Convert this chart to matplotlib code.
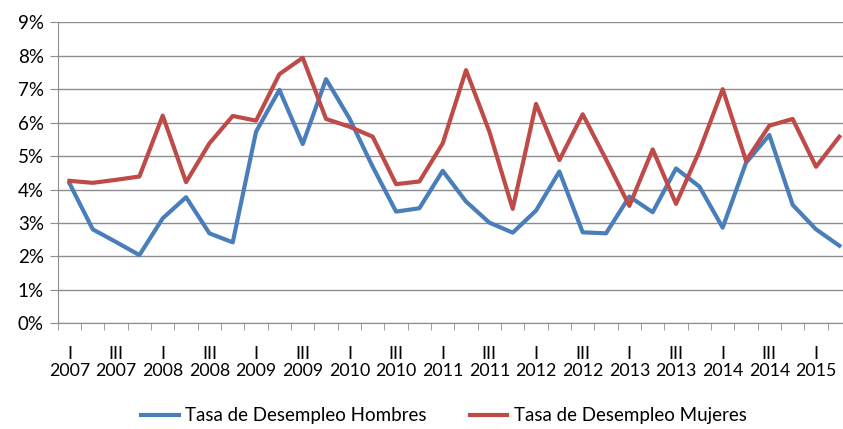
import matplotlib
matplotlib.use('Agg')
from matplotlib import pyplot as plt
from matplotlib.ticker import PercentFormatter, MultipleLocator

plt.rcParams['font.family'] = ['Lato', 'DejaVu Sans']

# trimestres: 2007 I ... 2015 II
anios = [2007, 2008, 2009, 2010, 2011, 2012, 2013, 2014, 2015]
trimestres = ['I', 'II', 'III', 'IV']

hombres = [4.19, 2.81, 2.43, 2.04, 3.14, 3.77, 2.69, 2.42, 5.73, 6.98,
           5.36, 7.30, 6.13, 4.68, 3.34, 3.44, 4.56, 3.64, 3.01, 2.71,
           3.37, 4.54, 2.72, 2.69, 3.79, 3.32, 4.63, 4.09, 2.86, 4.80,
           5.63, 3.54, 2.81, 2.32]
mujeres = [4.26, 4.20, 4.29, 4.39, 6.21, 4.22, 5.38, 6.20, 6.06, 7.45,
           7.94, 6.11, 5.88, 5.58, 4.16, 4.24, 5.38, 7.57, 5.73, 3.42,
           6.56, 4.88, 6.25, 4.90, 3.51, 5.20, 3.57, 5.15, 7.00, 4.86,
           5.91, 6.11, 4.68, 5.58]

etiquetas = []
for a in anios:
    for t in trimestres:
        etiquetas.append(f"{t}\n{a}")
etiquetas = etiquetas[:len(hombres)]
x = list(range(len(hombres)))

fig = plt.figure(figsize=(8.43, 4.29), dpi=100)
ax = fig.add_axes([0.0685, 0.2464, 0.941, 0.7016])

ax.plot(x, hombres, color='#4A7EBB', lw=3, label='Tasa de Desempleo Hombres')
ax.plot(x, mujeres, color='#BE4B48', lw=3, label='Tasa de Desempleo Mujeres')

ax.set_ylim(0, 9)
ax.set_xlim(-0.5, len(hombres) - 0.5)
ax.yaxis.set_major_locator(MultipleLocator(1))
ax.yaxis.set_major_formatter(PercentFormatter(decimals=0))
ax.grid(axis='y', color='#8c8c8c', lw=1)
ax.set_axisbelow(True)

# etiquetas cada dos trimestres, marcas entre categorías
ax.set_xticks(x[::2])
ax.set_xticklabels(etiquetas[::2], linespacing=1.1)
ax.set_xticks([i - 0.5 for i in x] + [len(x) - 0.5], minor=True)
ax.tick_params(axis='x', which='major', length=0, pad=16, labelsize=12.8)
ax.tick_params(axis='x', which='minor', length=5, color='#8c8c8c', direction='out')
ax.tick_params(axis='y', length=6, color='#8c8c8c', labelsize=13.5, pad=4)

for s in ['top', 'right']:
    ax.spines[s].set_visible(False)
ax.spines['left'].set_color('#8c8c8c')
ax.spines['bottom'].set_color('#8c8c8c')

fig.legend(loc='center', bbox_to_anchor=(444 / 843, 1 - 416 / 429), ncol=2,
           frameon=False, fontsize=13.5, handlelength=2.0, columnspacing=2.3,
           handletextpad=0.35)

plt.savefig('out.png', dpi=100)
